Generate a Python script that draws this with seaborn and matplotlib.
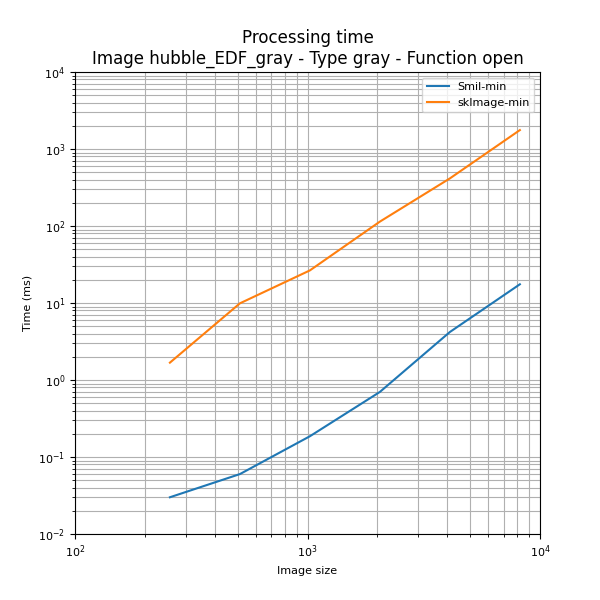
import matplotlib
matplotlib.use("Agg")
import matplotlib.pyplot as plt
import pandas as pd
import seaborn as sns

SIZES = [256, 512, 1024, 2048, 4096, 8192]
SMIL_MIN = [0.030, 0.060, 0.186, 0.70, 4.2, 17.5]
SKIMAGE_MIN = [1.68, 9.9, 26.5, 114, 415, 1760]
SERIES = ["Smil-min", "skImage-min"]
COLORS = ["#1f77b4", "#ff7f0e"]


def main() -> None:
    df = pd.DataFrame({
        "size": SIZES * 2,
        "time": SMIL_MIN + SKIMAGE_MIN,
        "series": [SERIES[0]] * len(SIZES) + [SERIES[1]] * len(SIZES),
    })

    fig, ax = plt.subplots(figsize=(6, 6), dpi=100)
    sns.lineplot(data=df, x="size", y="time", hue="series", palette=COLORS,
                 ax=ax, linewidth=1.5)
    ax.set_xscale("log")
    ax.set_yscale("log")
    ax.set_xlim(1e2, 1e4)
    ax.set_ylim(1e-2, 1e4)
    ax.grid(True, which="both", color="#b0b0b0", linewidth=0.8)
    ax.set_axisbelow(True)
    ax.tick_params(labelsize=8)
    ax.set_xlabel("Image size", fontsize=8)
    ax.set_ylabel("Time (ms)", fontsize=8)
    ax.set_title("Processing time\nImage hubble_EDF_gray - Type gray - Function open",
                 fontsize=12)
    ax.legend(title=None, fontsize=8, loc="upper right")
    fig.subplots_adjust(left=0.125, right=0.9, top=0.88, bottom=0.11)
    fig.savefig("out.png", dpi=100)
    plt.close(fig)


if __name__ == "__main__":
    main()
